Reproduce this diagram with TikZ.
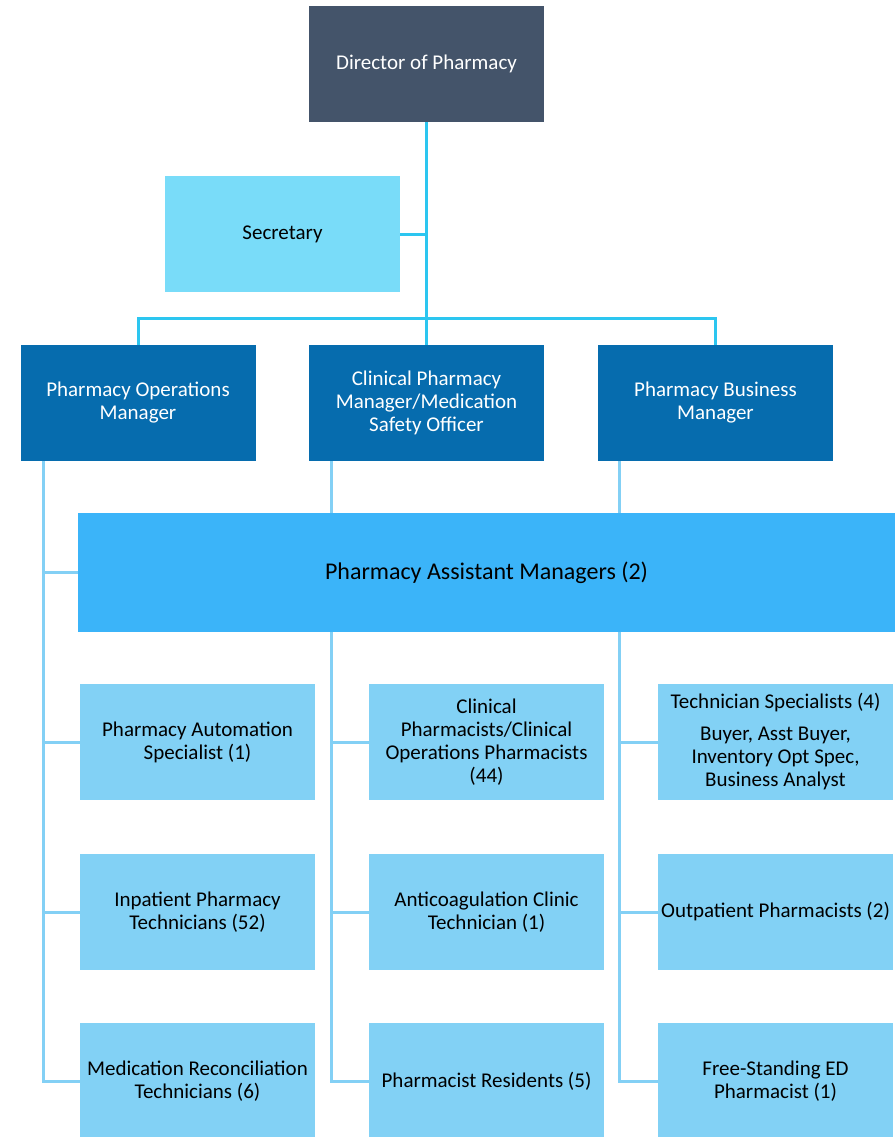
\documentclass[tikz,border=0pt]{standalone}
\usepackage{fontspec}
\setmainfont{Carlito}
\definecolor{director}{HTML}{44546A}
\definecolor{secretary}{HTML}{79DCF9}
\definecolor{manager}{HTML}{066CAE}
\definecolor{assistant}{HTML}{3BB4F9}
\definecolor{staff}{HTML}{82D1F5}
\definecolor{topwire}{HTML}{2CC6F0}
\definecolor{lowwire}{HTML}{83D0F5}
\begin{document}
\begin{tikzpicture}[x=1pt, y=-1pt,
		box/.style={rectangle, inner sep=0pt, minimum width=235pt, minimum height=116pt,
			align=center, font=\fontsize{21}{23}\selectfont},
		topline/.style={draw=topwire, line width=3pt},
		lowline/.style={draw=lowwire, line width=3pt}]
		\useasboundingbox (0,0) rectangle (895,1137);
		\node[box, fill=director, text=white] (D) at (426.5,64) {Director of Pharmacy};
		\node[box, fill=secretary] (S) at (282.5,234) {Secretary};
		\node[box, fill=manager, text=white] (OM) at (138,403) {Pharmacy Operations\\Manager};
		\node[box, fill=manager, text=white] (CM) at (426.5,403) {Clinical Pharmacy\\Manager/Medication\\Safety Officer};
		\node[box, fill=manager, text=white] (BM) at (715.5,403) {Pharmacy Business\\Manager};
		\node[box, fill=assistant, minimum width=817pt, minimum height=119pt,
			font=\fontsize{24}{26}\selectfont] (AM) at (486.5,572.5) {Pharmacy Assistant Managers (2)};
		\foreach \n/\xc/\yc/\txt in {
				A1/197.5/742/{Pharmacy Automation\\Specialist (1)},
				A2/197.5/912/{Inpatient Pharmacy\\Technicians (52)},
				A3/197.5/1081/{Medication Reconciliation\\Technicians (6)},
				B1/486.5/742/{Clinical\\Pharmacists/Clinical\\Operations Pharmacists\\(44)},
				B2/486.5/912/{Anticoagulation Clinic\\Technician (1)},
				B3/486.5/1081/{Pharmacist Residents (5)},
				C1/775.5/742/{Technician Specialists (4)\\[9pt]Buyer, Asst Buyer,\\Inventory Opt Spec,\\Business Analyst},
				C2/775.5/912/{Outpatient Pharmacists (2)},
				C3/775.5/1081/{Free-Standing ED\\Pharmacist (1)}}{
			\node[box, fill=staff] (\n) at (\xc,\yc) {\txt};
		}
		% director, secretary and managers
		\coordinate (bus) at (426.5,318);
		\draw[topline] (D.south) -- (CM.north);
		\draw[topline] (S.east) -- (S.east -| D.south);
		\draw[topline] (OM.north) |- (bus) -| (BM.north);
		% staff lines under each manager
		\coordinate (la) at ([xshift=23pt]OM.south west);
		\coordinate (lb) at ([xshift=23pt]CM.south west);
		\coordinate (lc) at ([xshift=22pt]BM.south west);
		\draw[lowline] (la) |- (A3.west);
		\draw[lowline] (AM.west) -- (AM.west -| la);
		\draw[lowline] (lb) -- (lb |- AM.north);
		\draw[lowline] (lc) -- (lc |- AM.north);
		\draw[lowline] (lb |- AM.south) |- (B3.west);
		\draw[lowline] (lc |- AM.south) |- (C3.west);
		\foreach \r in {1,2}{
			\draw[lowline] (A\r.west) -- (A\r.west -| la);
			\draw[lowline] (B\r.west) -- (B\r.west -| lb);
			\draw[lowline] (C\r.west) -- (C\r.west -| lc);
		}
	\end{tikzpicture}
\end{document}
